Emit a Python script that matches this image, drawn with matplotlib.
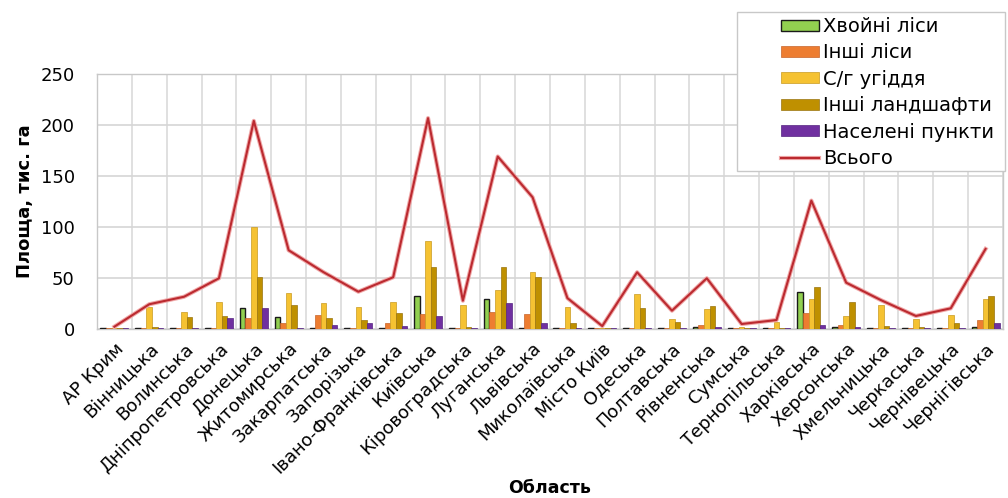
import numpy as np
import matplotlib
matplotlib.use('Agg')
import matplotlib.pyplot as plt
import matplotlib.patheffects as pe
from matplotlib.patches import Rectangle

plt.rcParams['font.family'] = ['DejaVu Sans']

regions = ['АР Крим', 'Вінницька', 'Волинська', 'Дніпропетровська', 'Донецька',
           'Житомирська', 'Закарпатська', 'Запорізька', 'Івано-Франківська',
           'Київська', 'Кіровоградська', 'Луганська', 'Львівська', 'Миколаївська',
           'Місто Київ', 'Одеська', 'Полтавська', 'Рівненська', 'Сумська',
           'Тернопільська', 'Харківська', 'Херсонська', 'Хмельницька',
           'Черкаська', 'Чернівецька', 'Чернігівська']

# площа за типами земель, тис. га
coniferous = [0.3, 1.0, 1.0, 1.0, 20.6, 11.5, 1.0, 0.3, 1.0, 32.4, 1.0, 29.2, 1.0,
              1.0, 1.0, 1.0, 1.0, 2.0, 1.0, 0.8, 36.4, 1.5, 1.0, 1.0, 0.5, 2.0]
other_forest = [0.8, 0.3, 1.0, 0.5, 10.8, 5.3, 13.1, 0.3, 5.3, 14.1, 0.5, 16.7, 14.1,
                0.5, 0.3, 0.3, 0.5, 4.0, 0.3, 0.3, 15.1, 3.5, 0.5, 0.5, 0.5, 8.5]
agricultural = [0.5, 21.5, 16.0, 26.0, 100.2, 34.8, 25.5, 21.6, 26.0, 86.1, 23.5, 38.0, 56.0,
                21.0, 0.3, 33.8, 9.2, 19.5, 2.0, 6.9, 28.9, 12.5, 23.3, 9.5, 13.1, 28.9]
other_land = [0.5, 1.5, 11.8, 12.8, 50.8, 23.3, 10.2, 8.5, 15.0, 61.0, 1.5, 60.3, 50.5,
              5.3, 0.5, 20.0, 6.3, 22.5, 1.0, 0.5, 41.3, 26.2, 2.2, 1.5, 5.3, 32.4]
settlements = [0.2, 0.5, 1.0, 10.2, 20.6, 1.0, 4.0, 5.9, 3.0, 12.8, 1.0, 24.9, 5.9,
               1.0, 0.5, 0.5, 0.5, 1.5, 0.3, 0.3, 3.6, 1.5, 1.0, 0.5, 1.0, 5.9]
total = [2.0, 24.0, 31.4, 49.5, 204.0, 77.0, 55.5, 36.3, 50.5, 206.7, 27.5, 169.0, 129.0,
         30.0, 2.6, 55.4, 17.7, 49.5, 4.6, 8.5, 125.7, 45.2, 28.0, 12.5, 20.0, 78.3]

series = [
    ('Хвойні ліси', coniferous, '#92d050', '#1a1a1a'),
    ('Інші ліси', other_forest, '#ed7d31', '#c8642a'),
    ('С/г угіддя', agricultural, '#f5c232', '#c99a20'),
    ('Інші ландшафти', other_land, '#bf9000', '#9a7410'),
    ('Населені пункти', settlements, '#7030a0', '#552480'),
]

fig = plt.figure(figsize=(10.08, 4.98), dpi=100)
ax = fig.add_axes([97 / 1008, 169.3 / 498, 906 / 1008, 254.7 / 498])

x = np.arange(len(regions))
w = 0.16
handles = []
for k, (name, vals, fc, ec) in enumerate(series):
    b = ax.bar(x + (k - 2) * w, vals, width=w, color=fc, edgecolor=ec,
               linewidth=1.0 if k == 0 else 0.5, label=name, zorder=3)
    handles.append(b)

line, = ax.plot(x, total, color='#bb2a30', linewidth=1.5, label='Всього', zorder=4,
                path_effects=[pe.Stroke(linewidth=3.0, foreground='#f0a8a8'), pe.Normal()])
handles.append(line)

ax.set_xlim(-0.5, len(regions) - 0.5)
ax.set_ylim(0, 250)
ax.set_yticks(np.arange(0, 251, 50))
ax.set_xticks(x)
ax.set_xticklabels(regions, rotation=45, ha='right', rotation_mode='anchor', fontsize=13)
ax.tick_params(axis='y', labelsize=13, length=0, pad=16)
ax.tick_params(axis='x', length=0, pad=8)

# сітка: горизонтальні лінії та межі категорій
ax.set_xticks(np.arange(-0.5, len(regions), 1), minor=True)
ax.grid(axis='y', color='#d6d6d6', linewidth=1.2, zorder=0)
ax.grid(axis='x', which='minor', color='#dadada', linewidth=1.2, zorder=0)
ax.grid(axis='x', which='major', visible=False)
ax.tick_params(axis='x', which='minor', length=0)
for s in ax.spines.values():
    s.set_color('#c8c8c8')
    s.set_linewidth(1.0)

ax.set_ylabel('Площа, тис. га', fontsize=13, fontweight='bold', labelpad=5)
ax.set_xlabel('Область', fontsize=12.5, fontweight='bold', labelpad=2)

# рамка легенди
fig.patches.append(Rectangle((737 / 1008, 1 - 171 / 498), 268 / 1008, 159 / 498,
                             transform=fig.transFigure, facecolor='white',
                             edgecolor='#c8c8c8', linewidth=1.0, zorder=5))
leg = fig.legend(handles=handles, loc='upper left', frameon=False,
                 bbox_to_anchor=(781 / 1008, 1 - 17 / 498), fontsize=14,
                 handlelength=1.95, handleheight=0.5, handletextpad=0.2,
                 labelspacing=0.38, borderaxespad=0, borderpad=0)
leg.set_zorder(6)

fig.savefig('out.png', dpi=100)
